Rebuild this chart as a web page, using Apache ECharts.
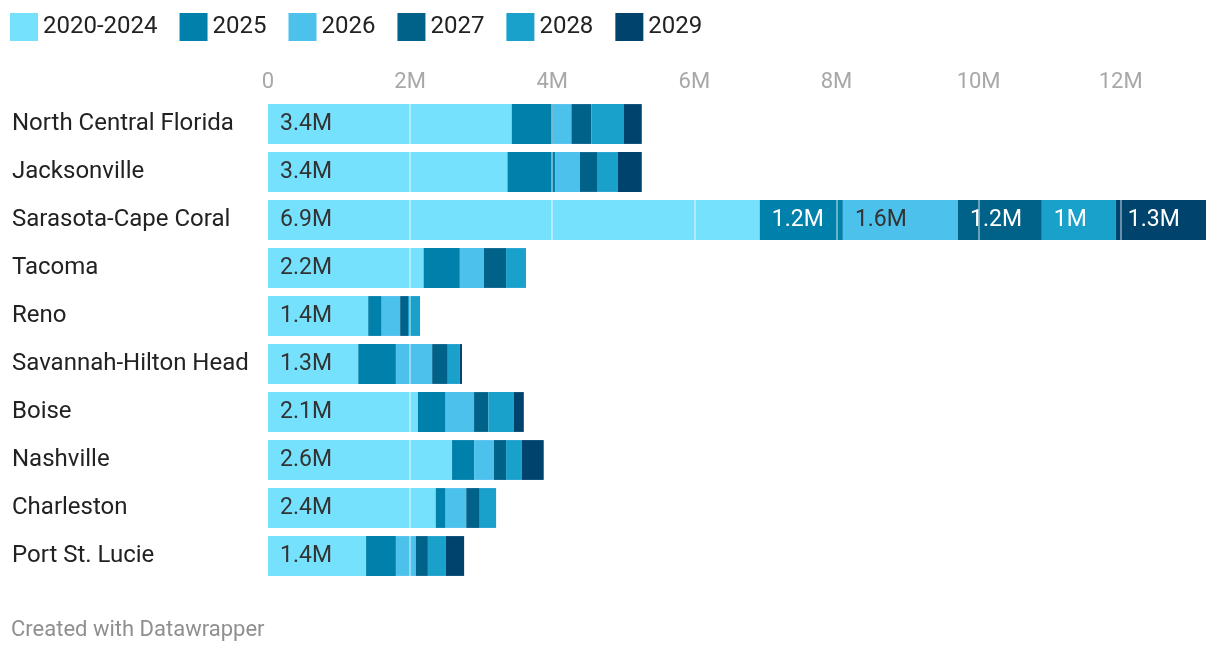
<!DOCTYPE html>
<html>
<head>
<meta charset="utf-8">
<script src="https://cdn.jsdelivr.net/npm/echarts@6/dist/echarts.min.js"></script>
<style>
html,body{margin:0;padding:0;background:#fff;}
#chart{width:1220px;height:654px;}
</style>
</head>
<body>
<div id="chart"></div>
<script>
var categories = ["North Central Florida","Jacksonville","Sarasota-Cape Coral","Tacoma","Reno","Savannah-Hilton Head","Boise","Nashville","Charleston","Port St. Lucie"];
var seriesNames = ["2020-2024","2025","2026","2027","2028","2029"];
var v2020_2024 = [3.43,3.37,6.92,2.19,1.41,1.27,2.11,2.59,2.36,1.38];
var v2025 = [0.58,0.67,1.17,0.51,0.19,0.53,0.39,0.31,0.14,0.42];
var v2026 = [0.26,0.35,1.62,0.34,0.26,0.51,0.40,0.28,0.29,0.28];
var v2027 = [0.28,0.25,1.18,0.31,0.11,0.22,0.20,0.17,0.19,0.17];
var v2028 = [0.46,0.28,1.04,0.28,0.17,0.17,0.36,0.22,0.23,0.25];
var v2029 = [0.25,0.34,1.27,0.00,0.00,0.03,0.14,0.31,0.00,0.26];
var xTicks = [0,2,4,6,8,10,12];

var colors = ["#75e1fd","#0081ab","#4cc1ec","#006189","#19a0cb","#00436c"];
var labelColors = ["#333333","#ffffff","#333333","#ffffff","#ffffff","#ffffff"];
var allValues = [v2020_2024,v2025,v2026,v2027,v2028,v2029];

var chart = echarts.init(document.getElementById('chart'));
var FONT = 'Roboto, sans-serif';

function fmt(v){ return parseFloat(v.toFixed(1)) + 'M'; }

var series = allValues.map(function(arr, i){
  var s = {
    name: seriesNames[i],
    type: 'bar',
    stack: 'total',
    data: arr,
    barCategoryGap: '17%',
    itemStyle: { color: colors[i] },
    label: {
      show: true,
      position: 'insideLeft',
      distance: 12,
      color: labelColors[i],
      fontFamily: FONT,
      fontSize: 23,
      padding: [4,0,0,0],
      formatter: function(p){ return p.value >= 0.9 ? fmt(p.value) : ''; }
    },
    emphasis: { disabled: true }
  };
  if (i === allValues.length - 1) {
    s.markLine = {
      silent: true,
      symbol: ['none','none'],
      label: { show: false },
      lineStyle: { color: 'rgba(255,255,255,0.55)', width: 1.5, type: 'solid' },
      data: xTicks.slice(1).map(function(t){ return { xAxis: t }; })
    };
  }
  return s;
});

chart.setOption({
  animation: false,
  textStyle: { fontFamily: FONT },
  legend: {
    left: 10,
    top: 13,
    padding: 0,
    itemWidth: 28,
    itemHeight: 28,
    itemGap: 22,
    icon: 'rect',
    textStyle: { fontFamily: FONT, fontSize: 24, color: '#222', padding: [5,0,0,0] },
    data: seriesNames
  },
  grid: { left: 268, right: 14, top: 100, bottom: 74, containLabel: false },
  xAxis: {
    type: 'value',
    position: 'top',
    min: 0,
    max: 13.2,
    interval: 2,
    axisLine: { show: false },
    axisTick: { show: false },
    splitLine: { show: false },
    axisLabel: {
      color: '#a8a8a8',
      fontFamily: FONT,
      fontSize: 22,
      margin: 7,
      showMaxLabel: false,
      formatter: function(v){ return v === 0 ? '0' : v + 'M'; }
    }
  },
  yAxis: {
    type: 'category',
    inverse: true,
    data: categories,
    axisLine: { show: false },
    axisTick: { show: false },
    axisLabel: {
      align: 'left',
      margin: 256,
      color: '#222',
      fontFamily: FONT,
      fontSize: 24,
      padding: [6,0,0,0]
    }
  },
  graphic: [{
    type: 'text',
    left: 11,
    top: 619,
    style: { text: 'Created with Datawrapper', fill: '#8f8f8f', font: '22px Roboto, sans-serif' }
  }],
  series: series
});
</script>
</body>
</html>
